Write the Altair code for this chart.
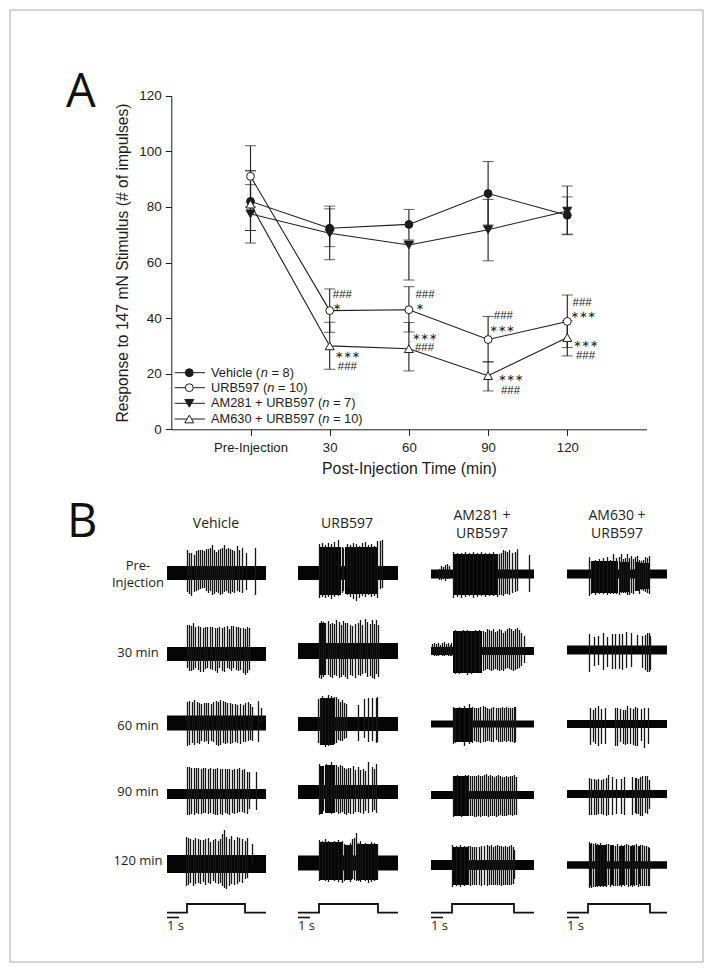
import altair as alt
import pandas as pd

# ---------- Panel A data ----------
times = [0, 30, 60, 90, 120]
veh_mean = [82, 72.3, 73.7, 84.8, 77]
veh_hi = [93, 79.3, 79.1, 96.3, 83.6]
veh_lo = [71.5, 65.7, 68.1, 73.5, 70.2]
urb_mean = [91, 42.7, 43, 32.3, 38.8]
urb_hi = [102, 50.5, 51.3, 40.6, 48.3]
urb_lo = [80, 34.9, 35, 24.2, 29.4]
am281_mean = [77.5, 70.5, 66.3, 71.8, 78.5]
am281_hi = [88, 80.3, 67.1, 82.7, 87.5]
am281_lo = [67, 61, 53.7, 60.6, 70]
am630_mean = [81, 30, 29, 19.3, 33]
am630_hi = [93, 38.5, 38.4, 24.3, 39]
am630_lo = [71.5, 21.6, 21, 13.8, 26.4]

sig_t = [34.8, 32.7, 36.7, 36.7, 66.1, 64.1, 65.9, 65.9, 95.8, 95.2, 98.5, 98.5, 125.6, 126, 126.9, 126.9]
sig_v = [48.3, 44, 26.7, 22.3, 48.3, 44.1, 33.3, 29.1, 40.8, 36.2, 18.3, 13.9, 45.3, 41, 30.7, 26.5]
sig_s = ["###", "∗", "∗∗∗", "###", "###", "∗", "∗∗∗", "###", "###", "∗∗∗", "∗∗∗", "###", "###", "∗∗∗", "∗∗∗", "###"]

# ---------- Panel B trace readings (units: samples, 12 samples = 1 s; amplitude a.u.) ----------
COL_X = [167, 298, 431, 567]
ROW_Y = [[573, 654, 723, 794, 864], [573, 651, 724, 792, 863],
         [574, 651, 724, 795, 865], [574, 650, 724, 794, 865]]
base_h = [[7, 7, 7.5, 5, 9], [7, 8, 7, 7, 7.5], [4.5, 4, 3.5, 4, 5], [4.5, 4.5, 4, 4, 3.7]]
span = [99, 100, 103, 100]
stim_on = [20, 21, 21, 21]
stim_off = [78, 80, 83, 83]

v0 = dict(off=[20,22,24,27,29,31,33,35,37,39,41,43,45,47,49,51,53,55,57,59,61,63,65,67,70,72,75,79,88],
          up=[23,20,20,18,22,23,23,23,22,24,24,25,28,23,21,23,24,25,28,24,25,24,23,22,27,23,25,20,25],
          dn=[19,21,23,19,18,17,16,15,15,18,20,18,22,21,19,20,22,21,19,18,20,21,19,20,18,19,20,17,22], blocks=[])
v1 = dict(off=[20,22,24,26,28,31,33,36,38,40,43,45,48,50,52,55,57,60,62,64,66,69,71,73,76,78,80,82],
          up=[29,29,28,31,27,28,27,26,27,27,27,27,26,26,27,26,27,28,25,28,28,27,27,26,26,25,27,26],
          dn=[14,17,17,16,14,16,18,18,15,14,15,16,17,19,14,17,18,14,15,17,14,16,17,16,19,21,19,16], blocks=[])
v2 = dict(off=[20,22,25,27,30,32,34,37,39,41,44,46,49,51,53,56,58,60,63,65,68,70,73,76,78,81,83,85,91,94],
          up=[21,22,21,23,21,20,19,20,20,20,19,21,22,21,23,22,21,20,20,19,19,18,19,18,20,21,19,16,22,15],
          dn=[23,22,20,22,20,21,18,19,18,21,18,19,22,23,22,20,21,20,21,20,19,20,21,19,19,18,17,18,19,0], blocks=[])
v3 = dict(off=[20,22,24,27,29,31,34,36,38,41,43,46,48,50,53,55,58,60,62,65,67,70,72,75,77,80,82,89],
          up=[27,27,26,26,26,26,25,26,26,25,26,25,25,26,25,25,25,25,25,24,25,25,26,24,25,22,22,22],
          dn=[21,21,20,21,19,20,20,19,19,20,19,20,21,21,20,21,19,20,21,19,20,19,18,18,19,20,15,16], blocks=[])
v4 = dict(off=[19,21,23,26,28,31,33,36,38,41,43,46,48,51,53,55,57,59,62,64,67,70,72,75,78,80,85],
          up=[27,26,25,24,26,25,24,24,25,26,22,24,25,23,25,30,34,27,25,28,24,27,26,25,23,26,20],
          dn=[22,21,19,22,20,19,20,18,21,19,20,17,19,20,19,22,24,25,22,20,21,20,18,19,15,14,0], blocks=[])
u0 = dict(off=[21,24,27,30,33,36,40,44,45,49,52,55,58,61,64,67,70,73,76,79,82,84],
          up=[29,30,28,30,29,31,33,26,25,29,28,30,29,27,30,31,28,29,27,32,32,33],
          dn=[25,24,25,24,26,24,23,20,18,22,24,26,28,25,23,24,22,24,23,25,16,15],
          blocks=[(21,43,26,22),(47,80,26,21)])
u1 = dict(off=[21,23,25,27,30,32,34,36,38,41,43,45,47,49,52,54,57,60,62,64,67,69,72,74,76,78,80],
          up=[27,30,29,28,30,27,28,27,31,29,26,30,28,28,26,25,27,28,31,26,32,29,27,31,27,31,26],
          dn=[27,28,26,24,24,26,27,24,25,27,26,24,26,28,24,25,27,24,25,23,22,26,25,27,28,23,26],
          blocks=[(21,27,28,24)])
u2 = dict(off=[20,22,24,27,30,33,36,38,40,42,44,46,48,60,66,70,74,78,79],
          up=[25,26,28,26,29,28,27,27,25,22,24,21,20,19,25,26,26,26,27],
          dn=[19,21,20,23,22,21,20,19,16,17,17,15,14,17,14,18,17,19,18],
          blocks=[(22,36,26,21)])
u3 = dict(off=[21,23,25,28,30,33,36,38,40,42,44,46,48,50,52,55,57,60,62,65,67,70,74,76,78],
          up=[28,26,26,28,27,30,27,27,25,27,26,24,23,24,24,26,22,25,22,23,21,30,25,23,28],
          dn=[23,22,19,21,19,22,21,20,22,21,20,22,23,21,22,22,20,20,21,22,19,21,20,18,21],
          blocks=[(21,25,26,22),(27,37,27,21)])
u4 = dict(off=[21,24,27,30,33,36,40,44,46,49,52,54,56,58,60,62,64,67,70,73,76,79],
          up=[23,22,24,22,21,22,23,22,19,18,20,24,25,30,20,22,18,20,19,21,20,19],
          dn=[18,17,18,19,17,18,19,20,18,17,19,16,17,18,18,19,17,18,20,19,18,17],
          blocks=[(21,44,21,17),(46,54,18,17),(58,80,19,17)])
a0 = dict(off=[8,10,12,14,16,18,22,26,30,34,38,42,46,50,54,58,62,66,68,70,72,74,76,78,81,84,86,98],
          up=[5,8,7,9,10,8,22,21,21,22,21,22,21,22,21,21,22,20,20,21,24,23,22,24,21,22,25,19],
          dn=[6,6,5,7,5,5,24,23,24,23,22,24,23,22,23,22,22,23,21,21,22,20,20,21,19,18,17,18],
          blocks=[(22,66,20,21)])
a1 = dict(off=[1,3,5,7,9,11,13,15,17,19,20,24,28,32,36,40,44,48,52,54,56,58,60,62,64,66,68,70,72,74,76,78,80,82,84,86,88,90,93],
          up=[7,8,7,8,6,8,9,7,8,6,8,21,20,21,21,20,21,21,20,19,22,21,20,22,19,20,22,21,18,20,22,23,22,20,22,23,21,18,15],
          dn=[4,5,5,5,4,5,5,4,5,5,5,23,23,22,24,23,22,21,20,19,18,19,20,19,18,19,20,19,20,18,17,18,19,20,19,18,17,15,12],
          blocks=[(22,51,20,22)])
a2 = dict(off=[22,24,28,33,38,41,43,45,47,49,52,54,56,58,60,62,65,67,69,71,73,75,77,79,81,83,84],
          up=[17,16,17,18,20,17,16,16,16,17,18,17,16,15,16,17,16,16,16,17,16,17,16,16,16,17,17],
          dn=[20,19,18,22,20,19,17,18,18,19,18,18,17,17,18,18,16,18,18,18,17,18,17,18,18,19,18],
          blocks=[(23,42,16,18)])
a3 = dict(off=[22,26,30,34,37,39,41,43,45,47,49,51,53,55,57,59,61,63,65,67,69,71,73,75,77,79,81,83,85],
          up=[19,20,19,20,20,19,19,19,19,20,19,19,20,21,19,20,19,18,19,20,19,18,18,19,18,19,19,20,18],
          dn=[22,21,22,21,21,21,21,22,22,21,22,21,21,21,22,21,21,21,22,21,20,21,21,21,20,20,21,20,20],
          blocks=[(22,37,19,21)])
a4 = dict(off=[21,25,29,33,37,39,41,43,45,48,50,53,56,58,60,62,64,66,68,70,72,74,76,78,80,82,83],
          up=[20,19,20,19,19,19,18,18,18,18,19,19,20,19,20,18,19,20,19,19,18,19,18,19,20,18,15],
          dn=[22,21,22,21,20,21,20,20,20,20,21,20,21,20,20,20,20,20,20,21,20,20,20,20,20,19,14],
          blocks=[(21,37,18,20)])
b0 = dict(off=[22,24,28,32,36,40,43,46,49,52,54,56,58,60,62,64,66,68,70,72,74,76,78,80,82],
          up=[17,13,14,15,16,17,14,20,16,17,20,15,16,20,16,18,15,17,18,14,13,14,17,16,18],
          dn=[22,20,21,20,20,21,20,20,20,21,19,19,19,21,21,19,20,17,17,20,16,17,18,19,20],
          blocks=[(24,51,13,19),(53,62,12,18),(68,72,12,17),(73,82,11,15)])
b1 = dict(off=[22,27,31,36,40,45,48,52,55,59,64,70,75,78,80,82,83],
          up=[16,13,14,17,13,16,16,16,16,18,17,15,14,15,17,17,14],
          dn=[22,16,15,20,17,19,19,19,20,18,17,0,18,20,22,22,20], blocks=[])
b2 = dict(off=[23,26,28,31,34,38,48,50,53,56,58,60,63,66,68,70,74,77,81],
          up=[16,14,16,18,15,16,16,16,15,14,14,18,16,15,17,16,15,16,16],
          dn=[21,18,20,22,20,20,22,22,18,20,21,20,20,21,22,22,17,24,20], blocks=[])
b3 = dict(off=[22,24,27,29,31,34,36,39,41,45,49,54,57,65,68,69,71,73,75,78,80,82],
          up=[16,15,15,14,15,14,15,16,19,17,15,15,17,17,16,16,15,17,18,18,18,14],
          dn=[21,21,21,21,20,20,21,22,21,21,20,20,21,21,19,20,20,22,22,19,20,15], blocks=[])
b4 = dict(off=[22,24,26,28,30,33,36,39,41,43,46,48,50,52,54,57,59,61,63,65,67,69,71,73,75,77,79,81,82],
          up=[23,22,21,22,21,22,20,21,21,20,20,19,21,19,20,20,21,20,19,20,20,21,19,20,20,19,19,18,17],
          dn=[23,23,22,22,22,22,22,22,20,22,21,21,21,21,22,21,20,22,21,22,21,20,22,21,21,21,21,21,21],
          blocks=[(22,25,21,21),(29,39,20,21),(43,46,20,20),(53,57,19,20),(64,67,19,20),(72,74,19,19)])
TRACES = [[v0, v1, v2, v3, v4], [u0, u1, u2, u3, u4], [a0, a1, a2, a3, a4], [b0, b1, b2, b3, b4]]

W, H = 698, 955
INK = "#1c1c1c"

# Figure-wide scales for panel B and annotations (page pixels minus the 8px margin)
def fx(field, **kw):
    return alt.X(field, type="quantitative", axis=None, scale=alt.Scale(domain=[8, 8 + W], range=[0, W], nice=False, zero=False), **kw)
def fy(field, **kw):
    return alt.Y(field, type="quantitative", axis=None, scale=alt.Scale(domain=[8, 8 + H], range=[0, H], nice=False, zero=False), **kw)
def fx2(field):
    return alt.X2(field)
def fy2(field):
    return alt.Y2(field)

# Panel A scales
sx = alt.Scale(domain=[-30, 150], range=[163.3, 638.5], nice=False, zero=False)
sy = alt.Scale(domain=[0, 120], range=[421.3, 87.7], nice=False, zero=False)
def ax(field="t", **kw):
    return alt.X(field, type="quantitative", scale=sx, axis=None, **kw)
def ay(field="v", **kw):
    return alt.Y(field, type="quantitative", scale=sy, axis=None, **kw)

layers = []

# frame
frame = pd.DataFrame([dict(x=10, x2=703, y=10, y2=962)])
layers.append(alt.Chart(frame).mark_rect(fillOpacity=0, fill="white", stroke="#a8a8a8", strokeWidth=1).encode(
    x=fx("x"), x2=fx2("x2"), y=fy("y"), y2=fy2("y2")))

# Panel B traces
spk, blk, bas, stim_rows, bars = [], [], [], [], []
for c, col in enumerate(TRACES):
    x0 = COL_X[c]
    for r, tr in enumerate(col):
        cy = ROW_Y[c][r]
        bas.append(dict(x=x0, x2=x0 + span[c], y=cy - base_h[c][r], y2=cy + base_h[c][r]))
        for (a, b, u, d) in tr["blocks"]:
            blk.append(dict(x=x0 + a, x2=x0 + b, y=cy - u, y2=cy + d))
        for o, u, d in zip(tr["off"], tr["up"], tr["dn"]):
            spk.append(dict(x=x0 + o + 0.5, y=cy - u, y2=cy + d))
    for i, (px, py) in enumerate([(x0, 912.7), (x0 + stim_on[c], 912.7), (x0 + stim_on[c], 904),
                                  (x0 + stim_off[c], 904), (x0 + stim_off[c], 912.7), (x0 + span[c], 912.7)]):
        stim_rows.append(dict(x=px, y=py, col=c, i=i))
    bars.append(dict(x=x0, x2=x0 + 12, y=917.5))

layers.append(alt.Chart(pd.DataFrame(bas)).mark_rect(color="#050505").encode(
    x=fx("x"), x2=fx2("x2"), y=fy("y"), y2=fy2("y2")))
layers.append(alt.Chart(pd.DataFrame(blk)).mark_rect(color="#050505").encode(
    x=fx("x"), x2=fx2("x2"), y=fy("y"), y2=fy2("y2")))
layers.append(alt.Chart(pd.DataFrame(spk)).mark_rule(color="#161616", strokeWidth=1.3).encode(
    x=fx("x"), y=fy("y"), y2=fy2("y2")))
layers.append(alt.Chart(pd.DataFrame(stim_rows)).mark_line(color="#111111", strokeWidth=1.8, interpolate="linear").encode(
    x=fx("x"), y=fy("y"), detail="col:N", order="i:Q"))
layers.append(alt.Chart(pd.DataFrame(bars)).mark_rule(color="#111111", strokeWidth=1.6).encode(
    x=fx("x"), x2=fx2("x2"), y=fy("y")))

# Panel B + panel letters text
def tlayer(rows, font, size, color="#1c1c1c", align="center", style=None):
    kw = {"fontStyle": style} if style else {}
    return alt.Chart(pd.DataFrame(rows)).mark_text(font=font, fontSize=size, color=color, align=align, baseline="middle", **kw).encode(
        x=fx("x"), y=fy("y"), text="s:N")

heads = [dict(x=216, y=524, s="Vehicle"), dict(x=347, y=524, s="URB597"),
         dict(x=482, y=516, s="AM281 +"), dict(x=482, y=534, s="URB597"),
         dict(x=617, y=516, s="AM630 +"), dict(x=617, y=534, s="URB597")]
rows_lab = [dict(x=138, y=566, s="Pre-"), dict(x=138, y=583, s="Injection"),
            dict(x=138, y=653, s="30 min"), dict(x=138, y=726, s="60 min"),
            dict(x=138, y=792, s="90 min"), dict(x=138, y=861, s="120 min")]
sec = [dict(x=x0, y=926, s="1 s") for x0 in COL_X]
layers.append(tlayer(heads, "Open Sans", 14))
layers.append(tlayer(rows_lab, "Open Sans", 13))
layers.append(tlayer(sec, "Open Sans", 13, align="left"))
layers.append(tlayer([dict(x=66, y=93, s="A"), dict(x=67, y=523, s="B")], "Open Sans", 47, color="#111111", align="left"))

# Panel A axes
axis_df = pd.DataFrame({"t": times, "v": [0, 0, 0, 0, 0]})
layers.append(alt.Chart(axis_df).mark_point(opacity=0).encode(
    x=alt.X("t", type="quantitative", scale=sx, title="Post-Injection Time (min)",
            axis=alt.Axis(values=times, offset=-(H - 421.3), grid=False, tickSize=6, tickColor=INK, domainColor=INK,
                          labelExpr="datum.value == 0 ? 'Pre-Injection' : datum.label", labelFont="Liberation Sans",
                          labelFontSize=13.2, labelColor=INK, labelPadding=6, titleFont="Liberation Sans", titleFontSize=15.8,
                          titleFontWeight="normal", titleColor=INK, titlePadding=8, format="d")),
    y=alt.Y("v", type="quantitative", scale=sy, title="Response to 147 mN Stimulus (# of impulses)",
            axis=alt.Axis(values=[0, 20, 40, 60, 80, 100, 120], offset=-163.3, grid=False, tickSize=6, tickColor=INK, domainColor=INK,
                          labelFont="Liberation Sans", labelFontSize=13.5, labelColor=INK, labelPadding=4,
                          titleFont="Liberation Sans", titleFontSize=15.7, titleFontWeight="normal", titleColor=INK, titlePadding=8)),
))

# Panel A series
series = [("Vehicle", veh_mean, veh_hi, veh_lo, "circle", INK),
          ("URB597", urb_mean, urb_hi, urb_lo, "circle", "white"),
          ("AM281", am281_mean, am281_hi, am281_lo, "triangle-down", INK),
          ("AM630", am630_mean, am630_hi, am630_lo, "triangle-up", "white")]
MSIZE = {"circle": 62, "triangle-down": 80, "triangle-up": 80}
for name, m, hi, lo, shape, fill in series:
    df = pd.DataFrame({"t": times, "m": m, "hi": hi, "lo": lo})
    layers.append(alt.Chart(df).mark_rule(color=INK, strokeWidth=1.1).encode(x=ax("t"), y=ay("lo"), y2=alt.Y2("hi")))
    layers.append(alt.Chart(df).mark_tick(orient="horizontal", size=11, thickness=1, color=INK).encode(x=ax("t"), y=ay("hi")))
    layers.append(alt.Chart(df).mark_tick(orient="horizontal", size=11, thickness=1, color=INK).encode(x=ax("t"), y=ay("lo")))
for name, m, hi, lo, shape, fill in series:
    df = pd.DataFrame({"t": times, "m": m})
    layers.append(alt.Chart(df).mark_line(color=INK, strokeWidth=1.1).encode(x=ax("t"), y=ay("m")))
for name, m, hi, lo, shape, fill in series:
    df = pd.DataFrame({"t": times, "m": m})
    layers.append(alt.Chart(df).mark_point(shape=shape, size=MSIZE[shape], filled=True, fill=fill, stroke=INK,
                                           strokeWidth=1, opacity=1).encode(x=ax("t"), y=ay("m")))

# Significance marks
sig = pd.DataFrame({"t": sig_t, "v": sig_v, "s": sig_s})
stars = sig[sig.s != "###"]
hashes = sig[sig.s == "###"]
layers.append(alt.Chart(stars).mark_text(font="DejaVu Sans", fontSize=10, color=INK, baseline="middle").encode(x=ax("t"), y=ay("v"), text="s:N"))
layers.append(alt.Chart(hashes).mark_text(font="Liberation Sans", fontSize=11.5, color=INK, baseline="middle").encode(x=ax("t"), y=ay("v"), text="s:N"))

# Hand-built legend
leg_y = [372.7, 387.7, 403.3, 419]
leg_a = ["Vehicle (", "URB597 (", "AM281 + URB597 (", "AM630 + URB597 ("]
leg_nx = [260.8, 267.2, 322.3, 322.3]
leg_b = ["= 8)", "= 10)", "= 7)", "= 10)"]
leg_bx = [271.5, 277.9, 333, 333]
for y, (name, m, hi, lo, shape, fill) in zip(leg_y, series):
    df = pd.DataFrame([dict(x=174.7, x2=205, xm=189.3, y=y)])
    layers.append(alt.Chart(df).mark_rule(color=INK, strokeWidth=1).encode(x=fx("x"), x2=fx2("x2"), y=fy("y")))
    layers.append(alt.Chart(df).mark_point(shape=shape, size=MSIZE[shape], filled=True, fill=fill, stroke=INK,
                                           strokeWidth=1, opacity=1).encode(x=fx("xm"), y=fy("y")))
layers.append(tlayer([dict(x=211, y=y, s=s) for y, s in zip(leg_y, leg_a)], "Liberation Sans", 12.8, align="left"))
layers.append(tlayer([dict(x=x, y=y, s="n") for x, y in zip(leg_nx, leg_y)], "Liberation Sans", 12.8, align="left", style="italic"))
layers.append(tlayer([dict(x=x, y=y, s=s) for x, y, s in zip(leg_bx, leg_y, leg_b)], "Liberation Sans", 12.8, align="left"))

chart = alt.layer(*layers).resolve_scale(x="independent", y="independent").resolve_axis(x="independent", y="independent").properties(
    width=W, height=H, autosize=alt.AutoSizeParams(type="none"), padding=0
).configure_view(stroke=None)

chart.save("out.html", embed_options={"renderer": "svg", "actions": False})
